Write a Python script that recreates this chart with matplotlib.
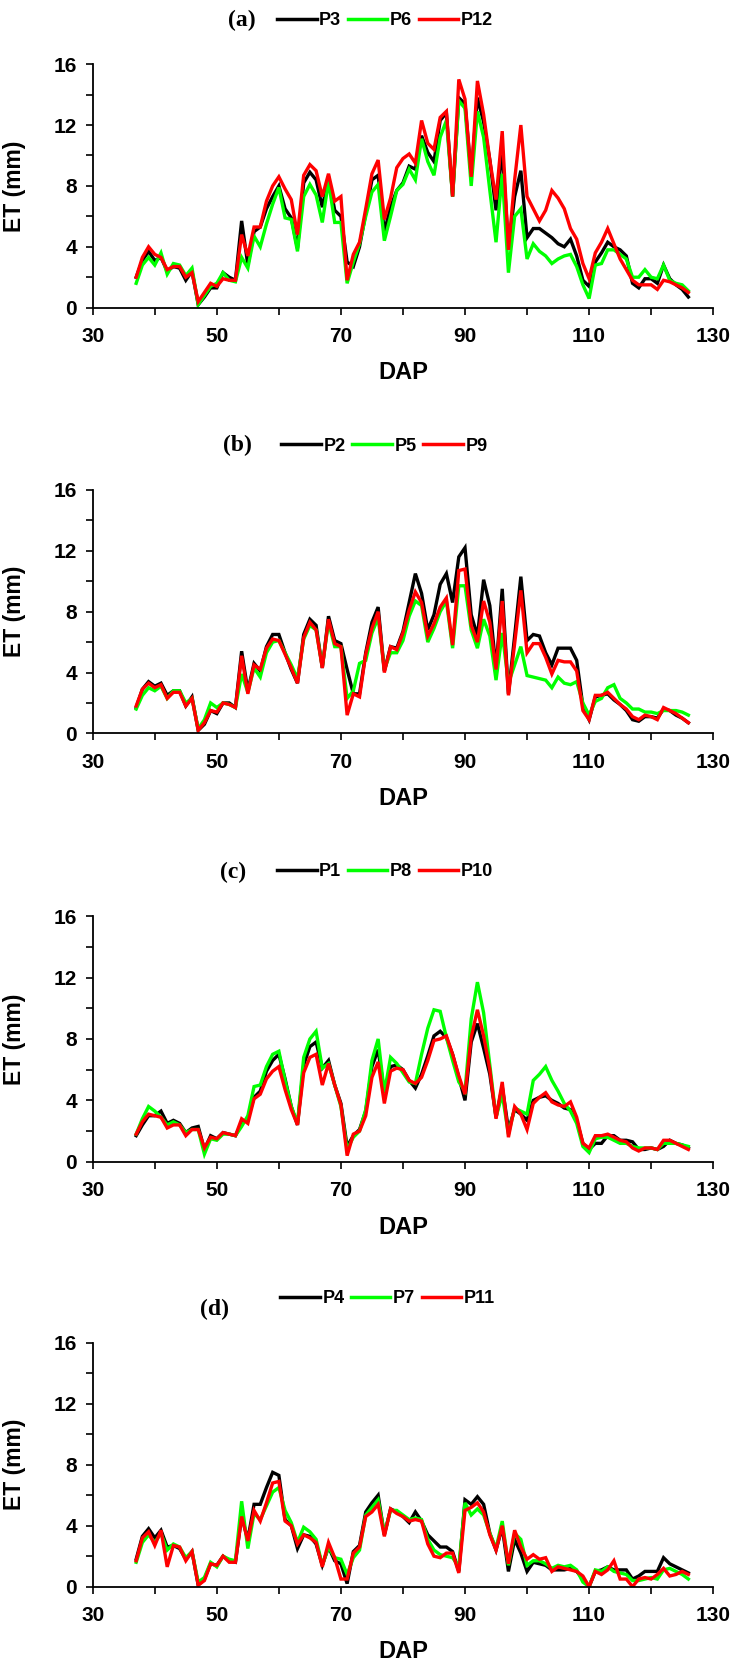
import numpy as np
import matplotlib
matplotlib.use("Agg")
import matplotlib.pyplot as plt
from matplotlib.ticker import FixedLocator

# days after planting, one value per day
dap = np.arange(37, 127)

# panel (a)
p3 = [2.0, 3.1, 3.7, 3.1, 3.3, 2.4, 2.7, 2.6, 1.8, 2.4,
      0.2, 0.7, 1.3, 1.3, 2.3, 2.0, 1.8, 5.7, 2.8, 5.0,
      5.3, 6.5, 7.3, 8.0, 6.5, 5.9, 3.9, 8.2, 8.9, 8.4,
      6.6, 8.6, 6.4, 6.0, 3.0, 2.7, 4.0, 6.2, 8.4, 8.7,
      5.0, 6.6, 7.7, 8.2, 9.3, 9.1, 11.3, 10.2, 9.6, 12.3,
      12.8, 7.3, 13.8, 13.4, 8.7, 13.8, 12.2, 9.7, 6.4, 10.4,
      4.0, 7.3, 9.0, 4.6, 5.2, 5.2, 4.9, 4.6, 4.2, 4.0,
      4.5, 3.4, 1.8, 1.4, 3.0, 3.6, 4.3, 4.0, 3.8, 3.4,
      1.6, 1.3, 1.9, 1.9, 1.6, 2.8, 1.9, 1.5, 1.2, 0.7]
p6 = [1.6, 2.8, 3.3, 2.8, 3.6, 2.2, 2.9, 2.8, 2.1, 2.6,
      0.2, 0.8, 1.4, 1.6, 2.3, 1.8, 1.7, 3.3, 2.6, 4.7,
      4.0, 5.5, 6.8, 7.9, 5.9, 5.8, 3.7, 7.3, 8.1, 7.4,
      5.6, 8.3, 5.6, 5.6, 1.6, 3.0, 4.2, 6.0, 7.6, 8.1,
      4.4, 6.0, 7.7, 8.1, 9.1, 8.4, 11.1, 9.6, 8.7, 11.2,
      12.3, 7.3, 13.6, 13.1, 8.0, 12.9, 11.2, 7.7, 4.3, 8.8,
      2.3, 6.0, 6.5, 3.2, 4.2, 3.7, 3.4, 2.9, 3.2, 3.4,
      3.5, 2.7, 1.5, 0.6, 2.8, 2.9, 3.8, 3.8, 3.5, 3.2,
      2.0, 2.0, 2.5, 2.0, 1.9, 2.8, 1.8, 1.6, 1.5, 1.1]
p12 = [2.0, 3.3, 4.0, 3.5, 3.3, 2.5, 2.7, 2.7, 2.0, 2.3,
       0.4, 1.0, 1.6, 1.4, 1.9, 1.8, 1.8, 4.8, 3.4, 5.3,
       5.3, 7.0, 8.0, 8.6, 7.8, 7.1, 4.8, 8.7, 9.4, 9.0,
       7.3, 8.8, 7.0, 7.3, 1.8, 3.5, 4.3, 6.5, 8.8, 9.7,
       5.8, 7.2, 9.2, 9.8, 10.1, 9.5, 12.3, 10.8, 10.4, 12.5,
       12.9, 7.3, 15.0, 13.7, 8.6, 14.9, 12.7, 9.7, 7.1, 11.6,
       3.8, 8.4, 12.0, 7.3, 6.5, 5.7, 6.4, 7.7, 7.2, 6.5,
       5.2, 4.5, 2.9, 1.9, 3.6, 4.3, 5.2, 4.2, 3.2, 2.5,
       1.8, 1.5, 1.5, 1.5, 1.2, 1.8, 1.7, 1.5, 1.3, 1.0]

# panel (b)
p2 = [1.7, 2.9, 3.4, 3.1, 3.3, 2.5, 2.8, 2.8, 1.8, 2.4,
      0.2, 0.6, 1.5, 1.3, 2.0, 2.0, 1.7, 5.4, 2.8, 4.6,
      4.1, 5.7, 6.5, 6.5, 5.3, 4.2, 3.3, 6.5, 7.5, 7.1,
      4.3, 7.7, 6.1, 5.9, 4.2, 2.6, 2.6, 5.3, 7.3, 8.3,
      4.1, 5.7, 5.6, 6.7, 8.6, 10.5, 9.2, 6.8, 7.8, 9.8,
      10.5, 8.6, 11.6, 12.2, 7.8, 6.4, 10.1, 8.4, 4.2, 9.5,
      2.6, 6.4, 10.3, 6.1, 6.5, 6.4, 5.3, 4.5, 5.6, 5.6,
      5.6, 4.8, 1.8, 0.9, 2.4, 2.5, 2.6, 2.2, 1.9, 1.5,
      0.9, 0.8, 1.1, 1.1, 1.0, 1.6, 1.5, 1.2, 1.0, 0.7]
p5 = [1.6, 2.5, 3.0, 2.8, 3.1, 2.3, 2.8, 2.8, 2.0, 2.3,
      0.3, 0.9, 2.0, 1.7, 2.0, 1.9, 1.7, 3.9, 2.7, 4.3,
      3.7, 5.3, 6.0, 6.1, 5.3, 4.5, 3.6, 6.2, 7.1, 6.8,
      4.4, 7.3, 5.7, 5.7, 2.3, 2.8, 4.6, 4.8, 6.6, 7.6,
      4.2, 5.3, 5.3, 6.1, 7.7, 8.7, 8.4, 6.0, 6.9, 8.0,
      8.7, 5.6, 9.7, 9.7, 6.8, 5.6, 7.5, 6.4, 3.5, 6.6,
      3.3, 4.5, 5.7, 3.8, 3.7, 3.6, 3.5, 3.0, 3.7, 3.3,
      3.2, 3.4, 2.0, 1.2, 2.1, 2.3, 3.0, 3.2, 2.3, 2.0,
      1.6, 1.6, 1.4, 1.4, 1.3, 1.5, 1.5, 1.5, 1.4, 1.2]
p9 = [1.8, 2.9, 3.3, 3.0, 3.2, 2.3, 2.7, 2.7, 1.8, 2.3,
      0.2, 0.7, 1.5, 1.4, 2.0, 1.9, 1.7, 5.1, 2.6, 4.5,
      4.2, 5.6, 6.2, 6.1, 5.2, 4.3, 3.3, 6.3, 7.3, 6.8,
      4.3, 7.5, 5.9, 5.7, 1.2, 2.6, 2.4, 5.2, 6.9, 8.0,
      4.0, 5.7, 5.5, 6.6, 8.1, 9.3, 8.6, 6.4, 7.2, 8.3,
      8.9, 5.8, 10.7, 10.8, 7.1, 6.0, 8.7, 7.3, 4.2, 8.7,
      2.5, 5.9, 9.4, 5.3, 5.9, 5.9, 5.0, 3.9, 4.8, 4.7,
      4.7, 4.1, 1.5, 0.9, 2.5, 2.5, 2.7, 2.3, 1.9, 1.6,
      1.1, 0.9, 1.2, 1.1, 0.9, 1.7, 1.5, 1.3, 1.0, 0.7]

# panel (c)
p1 = [1.7, 2.4, 3.0, 3.0, 3.3, 2.5, 2.7, 2.5, 1.9, 2.2,
      2.3, 0.8, 1.7, 1.5, 1.9, 1.8, 1.7, 2.5, 2.8, 4.2,
      4.6, 5.9, 6.6, 7.0, 5.4, 3.6, 2.4, 6.3, 7.5, 7.8,
      6.1, 6.6, 5.0, 3.8, 1.0, 1.7, 2.1, 3.3, 6.2, 7.3,
      4.5, 6.2, 6.3, 6.0, 5.3, 4.8, 5.7, 6.9, 8.2, 8.5,
      8.1, 7.0, 5.5, 4.0, 7.8, 9.0, 7.4, 5.7, 2.9, 4.9,
      2.1, 3.4, 3.1, 2.7, 4.0, 4.2, 4.3, 4.0, 3.8, 3.5,
      3.4, 2.7, 1.2, 0.8, 1.2, 1.2, 1.7, 1.7, 1.4, 1.4,
      1.3, 0.8, 0.8, 0.9, 0.8, 1.0, 1.4, 1.2, 1.1, 0.9]
p8 = [1.8, 2.8, 3.6, 3.3, 2.9, 2.4, 2.6, 2.4, 1.9, 2.1,
      2.1, 0.5, 1.5, 1.4, 1.8, 1.8, 1.7, 2.3, 3.0, 4.9,
      5.0, 6.2, 7.0, 7.2, 5.3, 3.6, 2.5, 6.8, 8.0, 8.5,
      6.1, 6.4, 5.0, 3.6, 0.8, 1.6, 2.0, 3.4, 6.6, 8.0,
      4.5, 6.8, 6.4, 5.8, 5.2, 5.1, 7.0, 8.7, 9.9, 9.8,
      8.1, 6.6, 5.2, 4.6, 9.3, 11.7, 9.7, 6.3, 2.9, 4.4,
      1.8, 3.5, 3.3, 3.1, 5.3, 5.7, 6.2, 5.3, 4.6, 3.8,
      3.3, 2.5, 1.0, 0.6, 1.5, 1.6, 1.6, 1.4, 1.2, 1.2,
      1.0, 0.9, 0.9, 0.9, 0.8, 1.2, 1.2, 1.2, 1.1, 1.0]
p10 = [1.8, 2.6, 3.1, 3.0, 2.9, 2.2, 2.4, 2.4, 1.7, 2.1,
       2.1, 0.9, 1.6, 1.5, 1.9, 1.8, 1.7, 2.8, 2.5, 4.1,
       4.4, 5.4, 5.9, 6.2, 4.7, 3.4, 2.4, 5.8, 6.8, 7.0,
       5.0, 6.4, 5.0, 3.7, 0.4, 1.8, 2.0, 3.0, 5.5, 6.5,
       3.8, 5.9, 6.1, 6.0, 5.3, 5.1, 5.5, 6.6, 7.9, 8.0,
       8.2, 7.0, 5.6, 4.4, 8.1, 9.9, 8.2, 6.0, 2.8, 5.2,
       1.6, 3.6, 3.1, 2.1, 3.8, 4.2, 4.5, 3.9, 3.7, 3.6,
       3.9, 2.9, 1.2, 0.9, 1.7, 1.7, 1.8, 1.6, 1.4, 1.3,
       0.9, 0.7, 0.9, 0.9, 0.8, 1.4, 1.4, 1.2, 1.0, 0.8]

# panel (d)
p4 = [1.8, 3.3, 3.8, 3.2, 3.7, 2.6, 2.7, 2.5, 1.8, 2.3,
      0.1, 0.5, 1.5, 1.4, 2.0, 1.7, 1.6, 4.6, 3.1, 5.4,
      5.4, 6.5, 7.5, 7.3, 4.4, 4.0, 2.5, 3.4, 3.3, 2.8,
      1.4, 2.6, 1.7, 1.5, 0.2, 2.3, 2.7, 4.9, 5.5, 6.0,
      3.4, 5.1, 4.9, 4.6, 4.2, 4.9, 4.3, 3.4, 3.0, 2.6,
      2.6, 2.3, 1.0, 5.7, 5.4, 5.9, 5.4, 3.5, 2.4, 3.9,
      1.0, 3.1, 2.2, 1.0, 1.6, 1.5, 1.4, 1.1, 1.1, 1.1,
      1.2, 1.0, 0.5, 0.0, 1.0, 1.1, 1.3, 1.1, 1.1, 1.1,
      0.5, 0.7, 1.0, 1.0, 1.0, 1.9, 1.5, 1.3, 1.1, 0.9]
p7 = [1.6, 2.9, 3.4, 2.9, 3.5, 2.4, 2.8, 2.6, 1.9, 2.3,
      0.3, 0.6, 1.6, 1.3, 2.0, 1.8, 1.7, 5.6, 2.5, 4.8,
      4.4, 5.3, 6.2, 6.5, 5.0, 4.2, 2.9, 3.9, 3.6, 3.1,
      1.4, 2.6, 1.9, 1.8, 0.8, 1.9, 2.4, 4.7, 5.2, 5.7,
      3.5, 5.0, 5.0, 4.7, 4.4, 4.5, 4.4, 3.1, 2.4, 2.1,
      2.0, 1.9, 1.3, 5.5, 4.7, 5.1, 4.7, 3.5, 2.5, 4.3,
      1.4, 3.5, 3.1, 1.4, 1.7, 1.7, 1.5, 1.2, 1.4, 1.3,
      1.4, 1.1, 0.3, 0.0, 1.1, 1.0, 1.3, 1.0, 0.9, 0.8,
      0.4, 0.4, 0.5, 0.6, 0.5, 1.1, 1.2, 1.0, 0.8, 0.5]
p11 = [1.7, 3.2, 3.6, 2.7, 3.7, 1.3, 2.7, 2.6, 1.7, 2.3,
       0.1, 0.4, 1.5, 1.4, 2.0, 1.6, 1.6, 4.6, 3.0, 5.0,
       4.3, 5.5, 6.8, 6.9, 4.3, 4.0, 2.8, 3.4, 3.2, 2.9,
       1.3, 2.9, 1.9, 0.5, 0.5, 2.2, 2.6, 4.6, 4.9, 5.4,
       3.3, 5.1, 4.8, 4.6, 4.3, 4.4, 4.3, 2.8, 2.0, 1.9,
       2.2, 2.2, 0.9, 5.0, 5.2, 5.5, 4.9, 3.4, 2.4, 4.0,
       1.5, 3.7, 2.6, 1.8, 2.1, 1.8, 1.9, 1.0, 1.3, 1.2,
       1.1, 1.0, 0.7, 0.0, 1.0, 0.8, 1.1, 1.7, 0.5, 0.5,
       0.0, 0.5, 0.6, 0.5, 0.8, 1.2, 0.7, 0.8, 1.0, 0.8]

panel_labels = ["(a)", "(b)", "(c)", "(d)"]
series_names = [["P3", "P6", "P12"], ["P2", "P5", "P9"],
                ["P1", "P8", "P10"], ["P4", "P7", "P11"]]
series_values = [[p3, p6, p12], [p2, p5, p9],
                 [p1, p8, p10], [p4, p7, p11]]
colors = ["#000000", "#00ff00", "#ff0000"]
x_major = [30, 50, 70, 90, 110, 130]
x_minor = [40, 60, 80, 100, 120]
y_major = [0, 4, 8, 12, 16]
y_minor = [2, 6, 10, 14]

sans = "Liberation Sans"
serif = "Liberation Serif"

fig = plt.figure(figsize=(7.36, 16.63), dpi=100)

# axes boxes in figure fractions (left, bottom, width, height)
boxes = [
    (0.126, 0.815, 0.843, 0.1464),
    (0.126, 0.559, 0.843, 0.1464),
    (0.126, 0.3014, 0.843, 0.1477),
    (0.126, 0.0459, 0.843, 0.1467),
]
# panel label x (figure fraction) and legend anchor (axes fraction)
label_x = [0.328, 0.322, 0.316, 0.292]
legend_x = [0.285, 0.292, 0.285, 0.29]

for i, box in enumerate(boxes):
    ax = fig.add_axes(box)
    for name, vals, c in zip(series_names[i], series_values[i], colors):
        ax.plot(dap, vals, color=c, lw=2.4, label=name, solid_joinstyle="miter")

    ax.set_xlim(30, 130)
    ax.set_ylim(0, 16)
    ax.xaxis.set_major_locator(FixedLocator(x_major))
    ax.xaxis.set_minor_locator(FixedLocator(x_minor))
    ax.yaxis.set_major_locator(FixedLocator(y_major))
    ax.yaxis.set_minor_locator(FixedLocator(y_minor))
    for side in ["top", "right"]:
        ax.spines[side].set_visible(False)
    for side in ["left", "bottom"]:
        ax.spines[side].set_linewidth(1.3)
    ax.tick_params(which="both", direction="out", length=5, width=1.2)
    ax.tick_params(axis="x", which="major", pad=9)
    ax.tick_params(axis="y", which="major", pad=6.5)
    for lab in ax.get_xticklabels() + ax.get_yticklabels():
        lab.set_fontfamily(sans)
        lab.set_fontweight("bold")
        lab.set_fontsize(15)

    ax.set_xlabel("DAP", fontfamily=sans, fontweight="bold", fontsize=17)
    ax.xaxis.set_label_coords(0.5, -0.22)
    ax.set_ylabel("ET (mm)", fontfamily=sans, fontweight="bold", fontsize=16.5)
    ax.yaxis.set_label_coords(-0.108, 0.5)

    leg = ax.legend(loc="center left", bbox_to_anchor=(legend_x[i], 1.18),
                    ncol=3, frameon=False, handlelength=2.2,
                    handletextpad=0.15, columnspacing=0.35, borderaxespad=0,
                    prop={"family": sans, "weight": "bold", "size": 13})
    for ln in leg.get_lines():
        ln.set_linewidth(2.5)

    top = box[1] + box[3]
    dy = 0.0265 if i < 3 else 0.020
    fig.text(label_x[i], top + dy, panel_labels[i], fontfamily=serif,
             fontweight="bold", fontsize=17, ha="center", va="center")

fig.savefig("out.png", dpi=100)
